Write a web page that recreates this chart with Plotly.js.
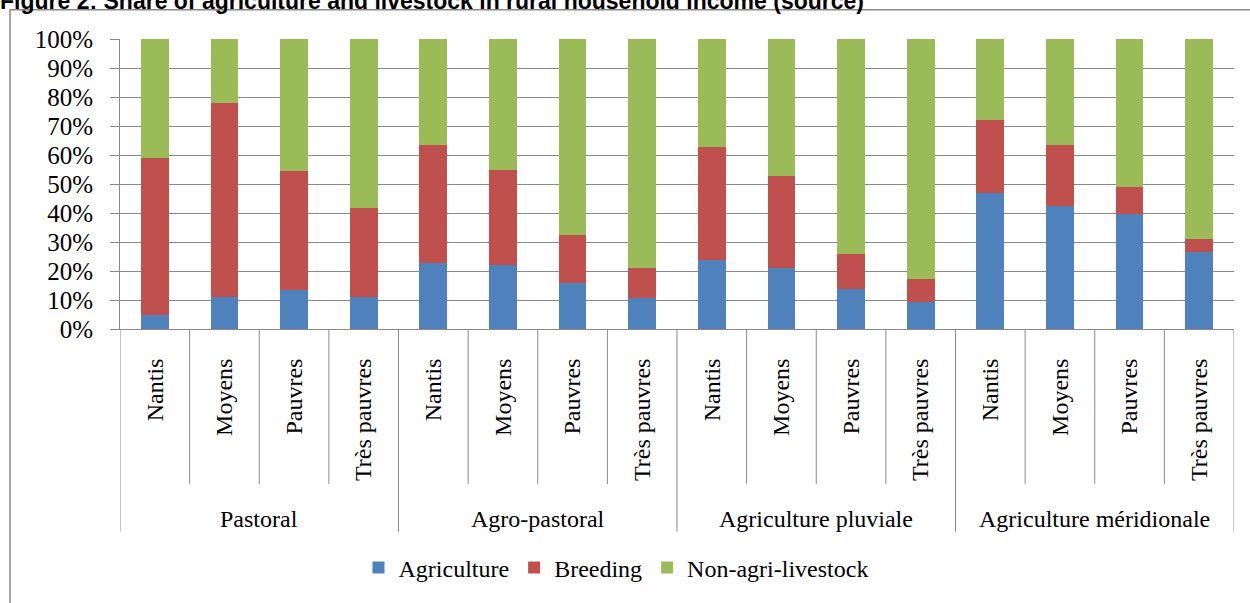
<!DOCTYPE html>
<html>
<head>
<meta charset="utf-8">
<script src="https://cdn.plot.ly/plotly-3.0.1.min.js"></script>
<style>html,body{margin:0;padding:0;background:#fff;}#chart{width:1250px;height:603px;}</style>
</head>
<body>
<div id="chart"></div>
<script>
// Data (percent of rural household income)
const zones = ["Pastoral", "Agro-pastoral", "Agriculture pluviale", "Agriculture méridionale"];
const classes = ["Nantis", "Moyens", "Pauvres", "Très pauvres"];
const agriculture = [4.9, 11.2, 13.3, 11.1, 22.7, 22.2, 15.8, 10.8, 23.9, 21.0, 13.8, 9.4, 46.8, 42.5, 39.5, 26.7];
const breeding    = [54.0, 66.9, 41.1, 30.7, 40.8, 32.5, 16.7, 10.1, 38.7, 31.7, 12.2, 7.8, 25.4, 20.8, 9.6, 4.5];
const nonAgri     = [41.1, 21.9, 45.6, 58.2, 36.5, 45.3, 67.5, 79.1, 37.4, 47.3, 74.0, 82.8, 27.8, 36.7, 50.9, 68.8];
const seriesNames = ["Agriculture", "Breeding", "Non-agri-livestock"];
const yTicks = [0, 10, 20, 30, 40, 50, 60, 70, 80, 90, 100];
const yTickText = ["0%", "10%", "20%", "30%", "40%", "50%", "60%", "70%", "80%", "90%", "100%"];

// category index for each bar (zone x class)
const xIdx = [], xLabels = [];
zones.forEach((z, zi) => classes.forEach((c, ci) => { xIdx.push(zi * classes.length + ci); xLabels.push(c); }));

const colors = ["#4F81BD", "#C0504D", "#9BBB59"];
const values = [agriculture, breeding, nonAgri];
const traces = values.map((v, i) => ({
  type: "bar", name: seriesNames[i], x: xIdx, y: v,
  marker: {color: colors[i], line: {width: 0}},
  hoverinfo: "y+name"
}));

const serif = "Liberation Serif";
const gridCol = "#898989";
const plotH = 292;

// divider lines at category boundaries
const shapes = [];
const nCat = xIdx.length;
for (let b = 0; b <= nCat; b++) {
  const isGroup = (b % classes.length === 0);
  shapes.push({
    type: "line", xref: "x", yref: "paper",
    x0: b - 0.5, x1: b - 0.5, y0: 0,
    y1: isGroup ? -204 / plotH : -156 / plotH,
    line: {color: gridCol, width: 1}
  });
}
// chart frame
shapes.push({
  type: "rect", xref: "paper", yref: "paper", layer: "below",
  x0: -110 / 1114, x1: 1.2, y0: -2, y1: 321.5 / plotH,
  line: {color: gridCol, width: 1.5}, fillcolor: "rgba(0,0,0,0)"
});

// group (zone) labels under the class labels
const annotations = zones.map((z, zi) => ({
  text: z, xref: "x", yref: "paper",
  x: zi * classes.length + (classes.length - 1) / 2, y: -191.5 / plotH,
  xanchor: "center", yanchor: "middle", showarrow: false,
  font: {family: serif, size: 24, color: "#000"}
}));

const layout = {
  width: 1250, height: 603,
  margin: {l: 120, r: 16, t: 39, b: 272, pad: 0},
  paper_bgcolor: "#fff", plot_bgcolor: "#fff",
  font: {family: serif, size: 24, color: "#000"},
  barmode: "stack", bargap: 0.6,
  title: {
    text: "Figure 2: Share of agriculture and livestock in rural household income (source)",
    font: {family: "Liberation Sans", size: 23, color: "#000", weight: "bold"},
    xref: "container", x: 0, xanchor: "left", y: 0.999, yanchor: "middle", pad: {t: 0, l: 0}
  },
  xaxis: {
    range: [-0.5, nCat - 0.5],
    tickmode: "array", tickvals: xIdx, ticktext: xLabels,
    showgrid: false, zeroline: false, showline: true, linecolor: gridCol, linewidth: 1,
    ticks: "", tickangle: -90,
    tickfont: {family: serif, size: 24, color: "#000"},
    ticklabelstandoff: 19
  },
  yaxis: {
    range: [0, 100], tickmode: "array", tickvals: yTicks, ticktext: yTickText,
    showgrid: true, gridcolor: gridCol, gridwidth: 1,
    zeroline: false, showline: true, linecolor: gridCol, linewidth: 1,
    ticks: "outside", ticklen: 9, tickcolor: gridCol,
    tickfont: {family: serif, size: 25, color: "#000"},
    ticklabelstandoff: 12
  },
  legend: {
    orientation: "h", x: 496 / 1114, xanchor: "center", y: -240.5 / plotH, yanchor: "middle",
    font: {family: serif, size: 24, color: "#000"},
    traceorder: "normal", itemclick: false
  },
  annotations: annotations,
  shapes: shapes,
  showlegend: true
};

Plotly.newPlot("chart", traces, layout, {displayModeBar: false, staticPlot: true});
</script>
</body>
</html>
